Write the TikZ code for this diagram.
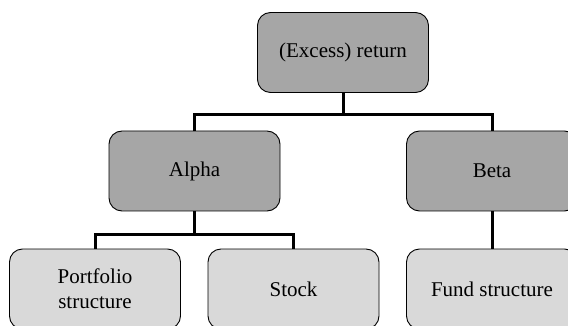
\documentclass[tikz,border=0pt]{standalone}
\usepackage{fontspec}
\setmainfont{Liberation Serif}
\definecolor{darkbox}{HTML}{A6A6A6}
\definecolor{lightbox}{HTML}{D9D9D9}
\begin{document}
\begin{tikzpicture}[x=1pt,y=1pt,
  box/.style={draw=black, line width=0.9pt, rounded corners=13pt,
    minimum width=171pt, minimum height=80pt, inner sep=2pt, align=center,
    font=\fontsize{21}{25}\selectfont},
  upper/.style={box, fill=darkbox},
  lower/.style={box, fill=lightbox},
  conn/.style={draw=black, line width=3pt}]
\useasboundingbox (0,0) rectangle (568,-326);
\clip (0,0) rectangle (568,-326);
\fill[white] (0,0) rectangle (568,-326);
\node[upper] (ret) at (343,-52.5) {(Excess) return};
\node[upper] (alpha) at (194.5,-171) {Alpha};
\node[upper] (beta) at (492,-171) {Beta};
\node[lower] (port) at (95,-289) {Portfolio\\structure};
\node[lower] (stock) at (293.5,-289) {Stock};
\node[lower] (fund) at (492,-289) {Fund structure};
\coordinate (j1) at (343,-115);
\coordinate (j2) at (194.5,-234);
\draw[conn] (ret.south) -- (j1);
\draw[conn] (alpha.north) |- (j1) -| (beta.north);
\draw[conn] (alpha.south) -- (j2);
\draw[conn] (port.north) |- (j2) -| (stock.north);
\draw[conn] (beta.south) -- (fund.north);
\end{tikzpicture}
\end{document}
